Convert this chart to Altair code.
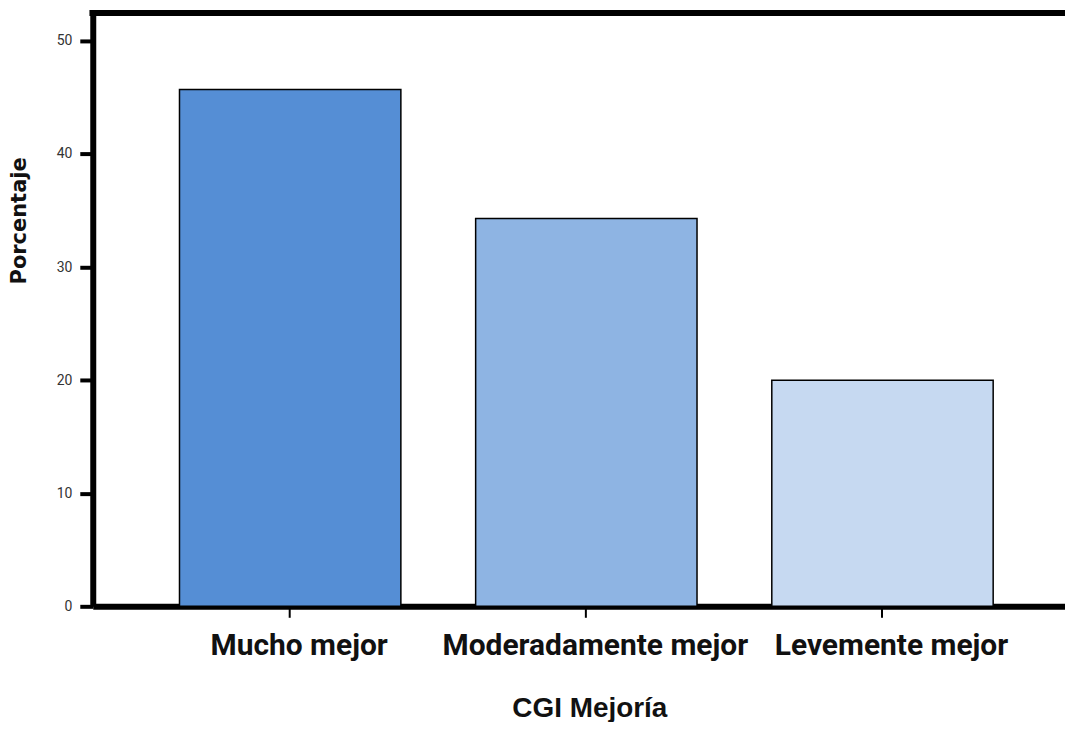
import altair as alt
import pandas as pd

categories = ["Mucho mejor", "Moderadamente mejor", "Levemente mejor"]
percentages = [45.7, 34.3, 20.0]
bar_colors = ["#558ED5", "#8EB4E3", "#C6D9F1"]
y_ticks = [0, 10, 20, 30, 40, 50]
y_max = 52.47

df = pd.DataFrame({"cat": categories, "pct": percentages})

x_enc = alt.X(
    "cat:N",
    sort=categories,
    scale=alt.Scale(paddingInner=0.2525, paddingOuter=0.2677, align=0.547),
    axis=alt.Axis(
        title="CGI Mejoría",
        labelAngle=0,
        labelFont="Roboto",
        labelFontSize=30,
        labelFontWeight="bold",
        labelColor="#111111",
        labelBaseline="top",
        labelPadding=13,
        labelOffset=9,
        labelLimit=0,
        tickSize=11,
        tickWidth=2,
        tickColor="black",
        domainWidth=6,
        domainColor="black",
        titleFont="Liberation Sans, Arial, sans-serif",
        titleFontSize=28,
        titleFontWeight="bold",
        titleColor="#111111",
        titleBaseline="alphabetic",
        titleX=498,
        titleY=110,
        titleAlign="center",
    ),
)

y_scale = alt.Scale(domain=[0, y_max], nice=False)

bars = alt.Chart(df).mark_bar(stroke="black", strokeWidth=1.5).encode(
    x=x_enc,
    y=alt.Y(
        "pct:Q",
        scale=y_scale,
        axis=alt.Axis(
            title="Porcentaje",
            values=y_ticks,
            grid=False,
            labelFont="Roboto",
            labelFontSize=14,
            labelColor="#333333",
            labelPadding=8,
            tickSize=13,
            tickWidth=4,
            tickColor="black",
            domainWidth=6,
            domainColor="black",
            titleFont="DejaVu Sans, sans-serif",
            titleFontSize=21,
            titleFontWeight="bold",
            titleColor="#111111",
            titleAngle=-90,
            titleX=-73,
            titleY=208,
            titleAlign="center",
            titleBaseline="middle",
        ),
    ),
    color=alt.Color("cat:N", sort=categories,
                    scale=alt.Scale(domain=categories, range=bar_colors),
                    legend=None),
)

top_line = alt.Chart(df).mark_rule(color="black", strokeWidth=6, strokeCap="square").encode(
    y=alt.YDatum(y_max)
)

chart = alt.layer(bars, top_line).properties(
    width=975,
    height=595,
    autosize=alt.AutoSizeParams(type="none"),
    padding={"left": 85, "top": 4, "right": 0, "bottom": 115},
).configure_view(stroke=None).configure(background="white")

chart.save("out.html", embed_options={"renderer": "svg", "actions": False})
